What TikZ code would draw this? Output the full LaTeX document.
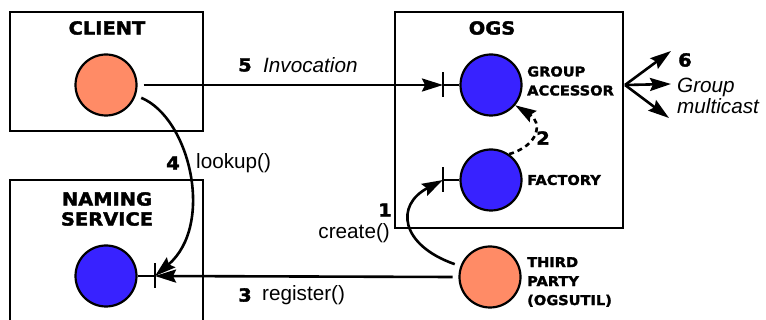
\documentclass[tikz,border=0pt]{standalone}
\usepackage{fontspec}
\setmainfont{Liberation Sans}
\newfontfamily\hdfont[FakeStretch=1.08,BoldFeatures={FakeBold=2}]{DejaVu Sans}
\usetikzlibrary{arrows.meta}
\definecolor{salmon}{RGB}{255,139,102}
\definecolor{objblue}{RGB}{56,34,255}
\tikzset{
  frame/.style={line width=2.6pt},
  conn/.style={line width=2.6pt},
  arr/.style={conn,-{Stealth[length=21pt,width=13pt,inset=3pt]}},
  objcirc/.style={circle,draw,line width=2.2pt,minimum size=61pt,inner sep=0pt},
  clientobj/.style={objcirc,fill=salmon,outer sep=7pt},
  serverobj/.style={objcirc,fill=objblue},
  title/.style={font=\hdfont\bfseries\fontsize{18}{21}\selectfont,inner sep=0pt},
  tag/.style={font=\hdfont\bfseries\fontsize{13.5}{19}\selectfont,inner sep=0pt,anchor=west,align=left},
  num/.style={font=\hdfont\bfseries\fontsize{18}{21}\selectfont,inner sep=0pt},
  lbl/.style={font=\fontsize{20.7}{23}\selectfont,inner sep=0pt},
}
\begin{document}
\begin{tikzpicture}[x=1pt,y=-1pt]
\useasboundingbox (0,0) rectangle (766,320);

% boxes
\draw[frame] (10,12) rectangle (203,131);
\draw[frame] (10,325) -- (10,180) -- (203,180) -- (203,325);
\draw[frame] (395,12) rectangle (623,228);

\node[title] (tclient) at (107,28) {CLIENT};
\node[title,align=center] (tnaming) at (107,209) {NAMING\\[-1pt]SERVICE};
\node[title] (togs) at (492,28) {OGS};

% objects
\node[clientobj] (cl) at (106,85) {};
\node[serverobj] (ns) at (106,276) {};
\node[serverobj] (ga) at (491,85) {};
\node[serverobj] (fa) at (491,180) {};
\node[clientobj] (tp) at (490,277) {};

\node[tag] (tga) at (527,81) {GROUP\\ACCESSOR};
\node[tag] (tfa) at (527,180) {FACTORY};
\node[tag] (ttp) at (527,282) {THIRD\\PARTY\\(OGSUTIL)};

% interface bars
\coordinate (gabar) at (443,85);
\coordinate (fabar) at (443,180);
\coordinate (nsbar) at (155,276);
\foreach \b in {gabar,fabar,nsbar}{
  \draw[conn] ([yshift=12.5pt]\b) -- ([yshift=-12.5pt]\b);
}
\draw[conn] (gabar) -- (ga);
\draw[conn] (fabar) -- (fa);
\draw[conn] (nsbar) -- (ns);

% 5 invocation
\draw[arr] (cl.east) -- (gabar);
\node[num] (n5) at (245,65) {5};
\node[lbl,anchor=west] (l5) at (263,65) {\itshape Invocation};

% 4 lookup
\draw[arr] (cl.-20) .. controls (190,118) and (215,225) .. (nsbar);
\node[num] (n4) at (173,163) {4};
\node[lbl,anchor=west] (l4) at (196,163) {lookup()};

% 3 register
\draw[arr] (tp.west) -- (nsbar);
\node[num] (n3) at (245,295) {3};
\node[lbl,anchor=west] (l3) at (262,295) {register()};

% 1 create
\draw[arr] (tp.160) .. controls (400,245) and (395,205) .. (fabar);
\node[num] (n1) at (385,210) {1};
\node[lbl,anchor=east] (l1) at (390,233) {create()};

% 2
\draw[arr,dashed,dash pattern=on 5pt off 4pt] (fa.55) .. controls (540,145) and (542,122) .. (ga.-40);
\node[num] (n2) at (543,138) {2};

% 6 group multicast
\coordinate (mc) at (625,85);
\coordinate (m1) at (671,51);
\coordinate (m2) at (671,84);
\coordinate (m3) at (669,118);
\draw[arr] (mc) -- (m1);
\draw[arr] (mc) -- (m2);
\draw[arr] (mc) -- (m3);
\node[num,anchor=west] (n6) at (678,60) {6};
\node[lbl,anchor=west,align=left] (l6) at (677,96) {\itshape Group\\[-2pt]\itshape multicast};
\end{tikzpicture}
\end{document}
